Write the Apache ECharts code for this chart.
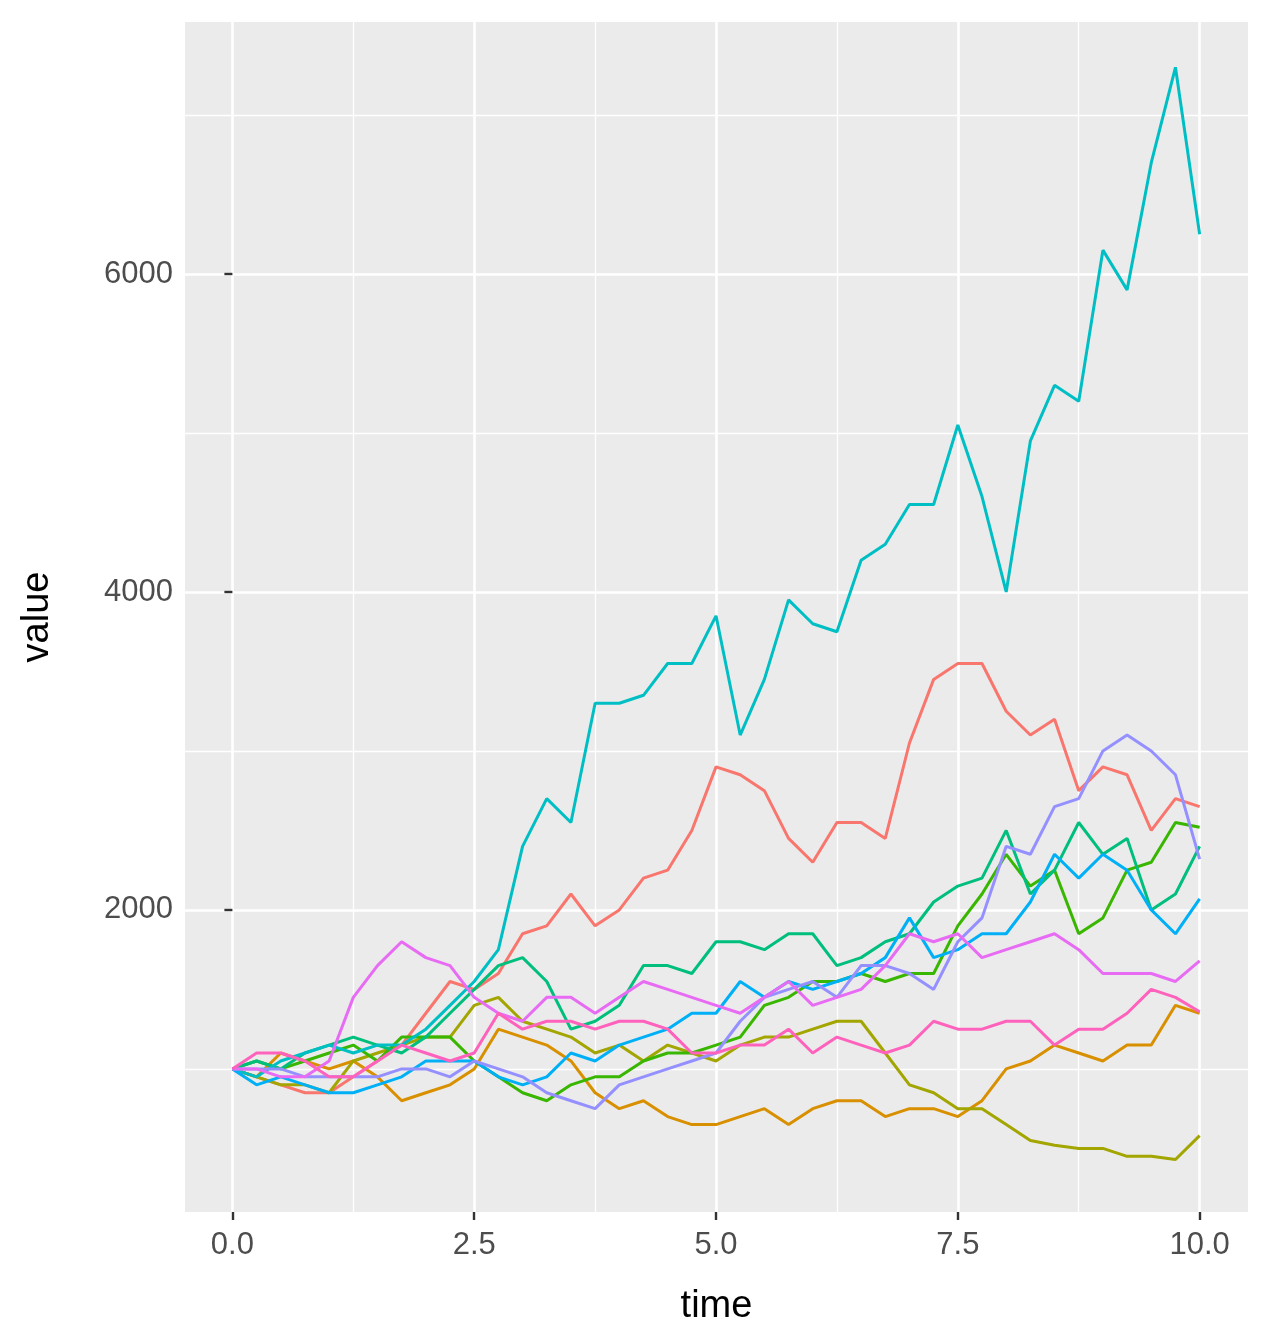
<!DOCTYPE html>
<html><head><meta charset="utf-8">
<script src="https://cdn.jsdelivr.net/npm/echarts@6/dist/echarts.min.js"></script>
<style>html,body{margin:0;padding:0;background:#fff}#c{width:1271px;height:1343px}</style>
</head><body><div id="c"></div>
<script>
const time = Array.from({length:41},(_,i)=>i*0.25);
const xTicks=[0,2.5,5,7.5,10], xMinor=[1.25,3.75,6.25,8.75];
const yTicks=[2000,4000,6000], yMinor=[1000,3000,5000,7000];
const sA=[1000,950,900,850,850,950,1050,1150,1350,1550,1500,1600,1850,1900,2100,1900,2000,2200,2250,2500,2900,2850,2750,2450,2300,2550,2550,2450,3050,3450,3550,3550,3250,3100,3200,2750,2900,2850,2500,2700,2650];
const sB=[1000,950,1100,1050,1000,1050,950,800,850,900,1000,1250,1200,1150,1050,850,750,800,700,650,650,700,750,650,750,800,800,700,750,750,700,800,1000,1050,1150,1100,1050,1150,1150,1400,1350];
const sC=[1000,950,900,900,850,1050,1100,1150,1200,1200,1400,1450,1300,1250,1200,1100,1150,1050,1150,1100,1050,1150,1200,1200,1250,1300,1300,1100,900,850,750,750,650,550,520,500,500,450,450,430,580];
const sD=[1000,1050,1000,1050,1100,1150,1050,1200,1200,1200,1050,950,850,800,900,950,950,1050,1100,1100,1150,1200,1400,1450,1550,1550,1600,1550,1600,1600,1900,2100,2350,2150,2250,1850,1950,2250,2300,2550,2520];
const sE=[1000,1050,1000,1100,1150,1200,1150,1100,1200,1350,1500,1650,1700,1550,1250,1300,1400,1650,1650,1600,1800,1800,1750,1850,1850,1650,1700,1800,1850,2050,2150,2200,2500,2100,2250,2550,2350,2450,2000,2100,2400];
const sF=[1000,950,1050,1100,1150,1100,1150,1150,1250,1400,1550,1750,2400,2700,2550,3300,3300,3350,3550,3550,3850,3100,3450,3950,3800,3750,4200,4300,4550,4550,5050,4600,4000,4950,5300,5200,6150,5900,6700,7300,6250];
const sG=[1000,900,950,900,850,850,900,950,1050,1050,1050,950,900,950,1100,1050,1150,1200,1250,1350,1350,1550,1450,1550,1500,1550,1600,1700,1950,1700,1750,1850,1850,2050,2350,2200,2350,2250,2000,1850,2070];
const sH=[1000,1000,1000,950,950,950,950,1000,1000,950,1050,1000,950,850,800,750,900,950,1000,1050,1100,1300,1450,1500,1550,1450,1650,1650,1600,1500,1800,1950,2400,2350,2650,2700,3000,3100,3000,2850,2320];
const sI=[1000,1000,950,950,1050,1450,1650,1800,1700,1650,1450,1350,1300,1450,1450,1350,1450,1550,1500,1450,1400,1350,1450,1550,1400,1450,1500,1650,1850,1800,1850,1700,1750,1800,1850,1750,1600,1600,1600,1550,1680];
const sJ=[1000,1100,1100,1050,950,950,1050,1150,1100,1050,1100,1350,1250,1300,1300,1250,1300,1300,1250,1100,1100,1150,1150,1250,1100,1200,1150,1100,1150,1300,1250,1250,1300,1300,1150,1250,1250,1350,1500,1450,1360];
const seriesData=[sA,sB,sC,sD,sE,sF,sG,sH,sI,sJ];
const colors=['#F8766D','#D89000','#A3A500','#39B600','#00BF7D','#00BFC4','#00B0F6','#9590FF','#E76BF3','#FF62BC'];
const xMin=-0.49,xMax=10.5,yMin=100,yMax=7585;
const chart=echarts.init(document.getElementById('c'));
const lbl={color:'#4D4D4D',fontSize:31,fontFamily:'Liberation Sans, Arial'};
chart.setOption({
  animation:false,
  grid:{left:185,right:23,top:22,bottom:131,show:true,backgroundColor:'#EBEBEB',borderWidth:0},
  xAxis:[
    {type:'value',min:xMin,max:xMax,name:'time',nameLocation:'middle',nameGap:76,
     nameTextStyle:{color:'#000',fontSize:38,fontFamily:'Liberation Sans, Arial'},
     axisLine:{show:false},axisTick:{show:true,length:8,customValues:xTicks,lineStyle:{color:'#333',width:2.4}},
     axisLabel:Object.assign({customValues:xTicks,margin:18,formatter:v=>v.toFixed(1)},lbl),
     splitLine:{show:true,lineStyle:{color:'#fff',width:2.6}}},
    {type:'value',min:xMin,max:xMax,position:'bottom',show:true,axisLine:{show:false},axisTick:{show:false,customValues:xMinor},
     axisLabel:{show:false,customValues:xMinor},splitLine:{show:true,lineStyle:{color:'#fff',width:1.3}}}
  ],
  yAxis:[
    {type:'value',min:yMin,max:yMax,name:'value',nameLocation:'middle',nameGap:128,nameRotate:90,
     nameTextStyle:{color:'#000',fontSize:38,fontFamily:'Liberation Sans, Arial'},
     axisLine:{show:false},axisTick:{show:true,length:8,customValues:yTicks,lineStyle:{color:'#333',width:2.4}},
     axisLabel:Object.assign({customValues:yTicks,margin:12,formatter:v=>String(v)},lbl),
     splitLine:{show:true,lineStyle:{color:'#fff',width:2.6}}},
    {type:'value',min:yMin,max:yMax,show:true,axisLine:{show:false},axisTick:{show:false,customValues:yMinor},
     axisLabel:{show:false,customValues:yMinor},splitLine:{show:true,lineStyle:{color:'#fff',width:1.3}}}
  ],
  series:seriesData.map((d,i)=>({type:'line',xAxisIndex:0,yAxisIndex:0,showSymbol:false,
    data:d.map((v,j)=>[time[j],v]),lineStyle:{color:colors[i],width:3},itemStyle:{color:colors[i]}}))
});
</script></body></html>
